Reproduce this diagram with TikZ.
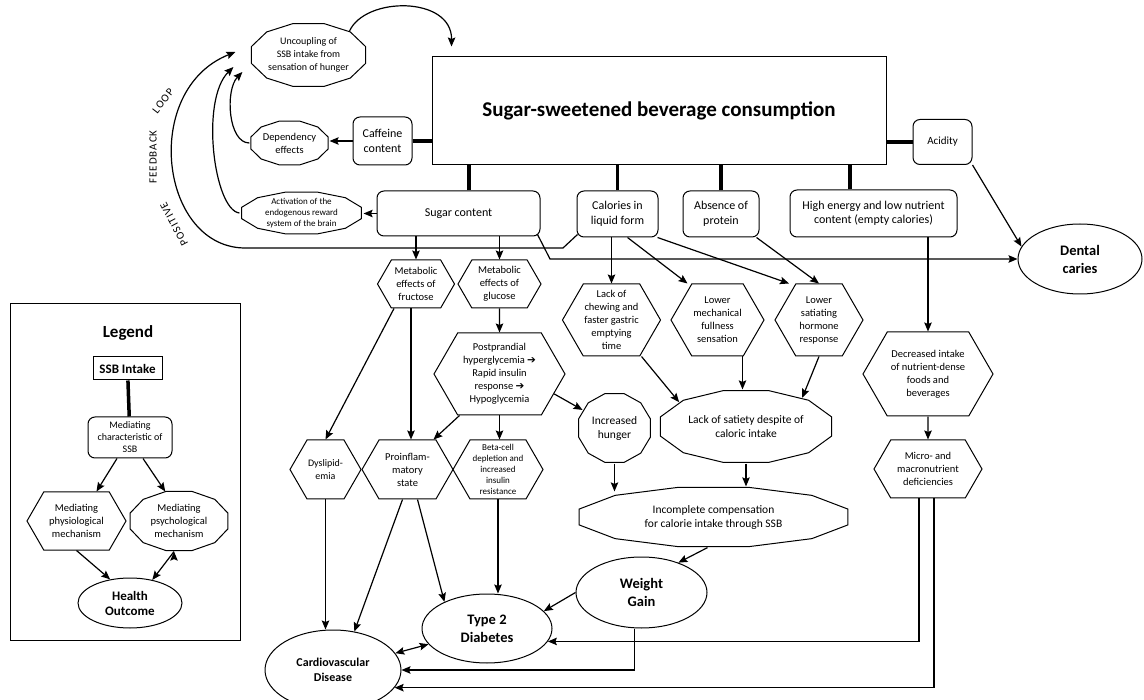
\documentclass[tikz,border=0pt]{standalone}
\usepackage{fontspec}
\setmainfont{Carlito}
\newfontfamily\arrowfont{DejaVu Sans}
\usetikzlibrary{positioning,arrows.meta,calc,shapes.geometric,shapes.symbols}
\newcommand{\fsize}[2]{\fontsize{#1}{#2}\selectfont}
\tikzset{
  charbox/.style={draw, rectangle, rounded corners=7pt, align=center, inner sep=2pt, line width=1pt, font=\fsize{12}{14.5}},
  hexnode/.style={draw, signal, signal to=east and west, signal pointer angle=120, align=center, inner sep=1pt, line width=1pt, font=\fsize{10.5}{13}},
  polynode/.style={ellipse, inner sep=0pt, align=center, font=\fsize{11.5}{14}},
  outnode/.style={draw, ellipse, inner sep=0pt, align=center, line width=1pt, font=\bfseries\fsize{14.5}{18}},
  link/.style={line width=3.5pt},
  loopfont/.style={font=\fsize{11}{13}\addfontfeature{LetterSpace=9}},
}

\begin{document}
\begin{tikzpicture}[x=1pt, y=-1pt, >={Stealth[length=9pt,width=7.5pt,inset=1.5pt]}, line width=1.2pt]
\useasboundingbox (0,0) rectangle (1144,700);

% beverage and its characteristics
\node[draw, line width=1pt, minimum width=454pt, minimum height=108pt, font=\bfseries\fsize{21}{25}] (ssb) at (659,111) {Sugar-sweetened beverage consumption};
\node[charbox, minimum width=59pt, minimum height=48pt] (caff) at (382.5,141) {Caffeine\\content};
\node[charbox, minimum width=59pt, minimum height=45pt, font=\fsize{11}{13}] (acid) at (942.5,142) {Acidity};
\node[charbox, minimum width=163pt, minimum height=45pt] (sug) at (458.5,213.5) {Sugar content};
\node[charbox, minimum width=81pt, minimum height=46pt] (cal) at (617.5,214) {Calories in\\liquid form};
\node[charbox, minimum width=76pt, minimum height=46pt] (prot) at (721,214) {Absence of\\protein};
\node[charbox, minimum width=167pt, minimum height=47pt] (empty) at (873.5,213.5) {High energy and low nutrient\\content (empty calories)};

% psychological mechanisms
\node[polynode, minimum width=117pt, minimum height=64pt, font=\fsize{10}{13}] (unc) at (308.5,55) {Uncoupling of\\SSB intake from\\sensation of hunger};
\node[polynode, minimum width=79pt, minimum height=44pt, font=\fsize{10.5}{13}] (dep) at (289.5,143) {Dependency\\effects};
\node[polynode, minimum width=123pt, minimum height=40pt, font=\fsize{9}{11}] (act) at (301.5,213) {Activation of the\\endogenous reward\\system of the brain};

% physiological mechanisms
\node[hexnode, minimum width=77pt, minimum height=48pt] (fru) at (416,284) {Metabolic\\effects of\\fructose};
\node[hexnode, minimum width=83pt, minimum height=48pt] (glu) at (499.5,284) {Metabolic\\effects of\\glucose};
\node[hexnode, minimum width=131pt, minimum height=82pt] (post) at (499.5,374) {Postprandial\\hyperglycemia {\arrowfont\bfseries\fsize{10.5}{13}➔}\\Rapid insulin\\response {\arrowfont\bfseries\fsize{10.5}{13}➔}\\Hypoglycemia};
\node[hexnode, minimum width=71pt, minimum height=59pt, font=\fsize{10}{12.7}] (dys) at (325.5,469.5) {Dyslipid-\\emia};
\node[hexnode, minimum width=91pt, minimum height=59pt] (infl) at (407.5,469.5) {Proinflam-\\matory\\state};
\node[hexnode, minimum width=90pt, minimum height=59pt, font=\fsize{9}{11.2}] (beta) at (498,469.5) {Beta-cell\\depletion and\\increased\\insulin\\resistance};
\node[hexnode, minimum width=97pt, minimum height=72pt] (chew) at (611.5,320) {Lack of\\chewing and\\faster gastric\\emptying\\time};
\node[hexnode, minimum width=93pt, minimum height=72pt] (mech) at (717.5,320) {Lower\\mechanical\\fullness\\sensation};
\node[hexnode, minimum width=88pt, minimum height=72pt] (horm) at (819,320) {Lower\\satiating\\hormone\\response};
\node[polynode, minimum width=73pt, minimum height=70pt] (hung) at (614.5,428) {Increased\\hunger};
\node[polynode, minimum width=176pt, minimum height=73pt] (sat) at (746,426.5) {Lack of satiety despite of\\caloric intake};
\node[polynode, minimum width=277pt, minimum height=60pt] (comp) at (713.5,517) {Incomplete compensation\\for calorie intake through SSB};
\node[hexnode, minimum width=130pt, minimum height=84pt] (dec) at (928,374) {Decreased intake\\of nutrient-dense\\foods and\\beverages};
\node[hexnode, minimum width=108pt, minimum height=58pt] (mic) at (928,469) {Micro- and\\macronutrient\\deficiencies};

% health outcomes
\node[outnode, minimum width=124pt, minimum height=70pt] (dent) at (1080,259) {Dental\\caries};
\node[outnode, minimum width=131pt, minimum height=71pt] (wg) at (641.5,592.5) {Weight\\Gain};
\node[outnode, minimum width=130pt, minimum height=69pt] (t2d) at (487,628.5) {Type 2\\Diabetes};
\node[outnode, minimum width=136pt, minimum height=80pt, font=\bfseries\fsize{12}{14.5}] (cvd) at (333,670) {Cardiovascular\\Disease};

% legend
\node[draw, line width=1pt, minimum width=230pt, minimum height=336pt] (legend) at (125,472) {};
\node[font=\bfseries\fsize{17}{20}] (legtitle) at (128,333) {Legend};
\node[draw, line width=1pt, minimum width=69pt, minimum height=23pt, font=\bfseries\fsize{13}{15}] (lssb) at (127.5,368.5) {SSB Intake};
\node[charbox, minimum width=84pt, minimum height=41pt, font=\fsize{10}{12}] (lchar) at (130,437.5) {Mediating\\characteristic of\\SSB};
\node[hexnode, minimum width=99pt, minimum height=58pt] (lphy) at (76.5,521) {Mediating\\physiological\\mechanism};
\node[polynode, minimum width=100pt, minimum height=60pt, font=\fsize{10.5}{13}] (lpsy) at (179,521) {Mediating\\psychological\\mechanism};
\node[outnode, minimum width=104pt, minimum height=50pt, font=\bfseries\fsize{13}{15}] (lout) at (130,603) {Health\\Outcome};

% 12-sided outlines
\foreach \nd in {unc,dep,act,hung,sat,comp,lpsy}
  \draw[line width=1pt] let \p0=(\nd.center), \p1=(\nd.east), \p2=(\nd.north),
      \n1={\x1-\x0}, \n2={\y2-\y0} in
    ({\x0+\n1*cos(15)*1pt},{\y0+\n2*sin(15)*1pt})
    foreach \ang in {45,75,...,345} { -- ({\x0+\n1*cos(\ang)*1pt},{\y0+\n2*sin(\ang)*1pt}) } -- cycle;

% positive feedback loop
\node[loopfont, rotate=118] (fbpos) at (174,224) {POSITIVE};
\node[loopfont, rotate=90] (fbfeed) at (153,157) {FEEDBACK};
\node[loopfont, rotate=52] (fbloop) at (163,101) {LOOP};

% thick links
\draw[link] (caff.east) -- (caff.east -| ssb.west);
\draw[link] (acid.west) -- (acid.west -| ssb.east);
\draw[link] ([xshift=10.5pt]sug.north) -- ([xshift=10.5pt]sug.north |- ssb.south);
\draw[link] (cal.north) -- (cal.north |- ssb.south);
\draw[link] (prot.north) -- (prot.north |- ssb.south);
\draw[link] ([xshift=-23.5pt]empty.north) -- ([xshift=-23.5pt]empty.north |- ssb.south);
\draw[link] (lssb) -- (lchar);

% arrows
\path[draw,->]
  (caff.west) edge (caff.west -| dep.east)
  (sug.west) edge (sug.west -| act.east)
  (fru.north |- sug.south) edge (fru.north)
  (glu.north |- sug.south) edge (glu.north)
  (glu) edge (post)
  ([xshift=-22pt]fru.south) edge (dys.north)
  ([xshift=-5pt]fru.south) edge ([xshift=-5pt]fru.south |- infl.north)
  ([xshift=-40pt]post.south) edge ([xshift=26pt]infl.north)
  (post.south) edge (post.south |- beta.north)
  (post.-20) edge (hung)
  ([xshift=-6pt]cal.south) edge ([xshift=-6pt]cal.south |- chew.north)
  ([xshift=10pt]cal.south) edge ([xshift=-30pt]mech.north)
  ([xshift=-1pt]cal.south east) edge ([xshift=-30pt]horm.north)
  ([xshift=-3pt]prot.south east) edge (horm.north)
  ([xshift=30pt]chew.south) edge (sat.160)
  ([xshift=25pt]mech.south) edge ([xshift=25pt]mech.south |- sat.north)
  (horm.south) edge (sat.27)
  (hung.south) edge ([yshift=-5pt]hung.south |- comp.north)
  (sat.south) edge (sat.south |- comp.north)
  ([xshift=-6pt]comp.south) edge (wg.39)
  (wg.west) edge (t2d.17)
  ([xshift=-5pt]infl.south) edge (cvd.61)
  ([xshift=10pt]infl.south) edge (t2d.148)
  (dys.south) edge (dys.south |- cvd.north)
  (beta.south) edge (beta.south |- t2d.north)
  (dec.north |- empty.south) edge (dec.north)
  (dec) edge (mic)
  (acid.south east) edge (dent.168)
  ([xshift=-13pt]lchar.south) edge ([xshift=20pt]lphy.north)
  ([xshift=13pt]lchar.south) edge (lpsy.115)
  (lphy.south) edge (lout.130)
  ([xshift=-5pt]lpsy.south) edge (lout.46);

\draw[->] ([shift={(-3pt,2pt)}]sug.south east) -- (550,259) -- (dent.west);
\draw[->] ([xshift=-7pt]wg.south) |- (cvd.east);
\draw[->] ([xshift=-9pt]mic.south) |- (t2d.-12);
\draw[->] ([xshift=6pt]mic.south) |- (cvd.-16);
\draw[<->] (cvd) -- (t2d);

% loop back to the beverage
\draw[->] (unc.30) .. controls (365,-4) and (452,-4) .. ([shift={(20pt,10pt)}]ssb.north west);
\draw[->] (dep.west) .. controls (228,143) and (225,90) .. ([shift={(-7pt,-17pt)}]unc.west);
\draw[->] (act.west) .. controls (214,210) and (200,100) .. ([shift={(-16pt,-12pt)}]unc.west);
\draw[->] ([shift={(1pt,3pt)}]cal.south west) -- (563,248) -- (247,248) .. controls (160,250) and (140,90) .. ([shift={(-14pt,3pt)}]unc.west);
\end{tikzpicture}
\end{document}
